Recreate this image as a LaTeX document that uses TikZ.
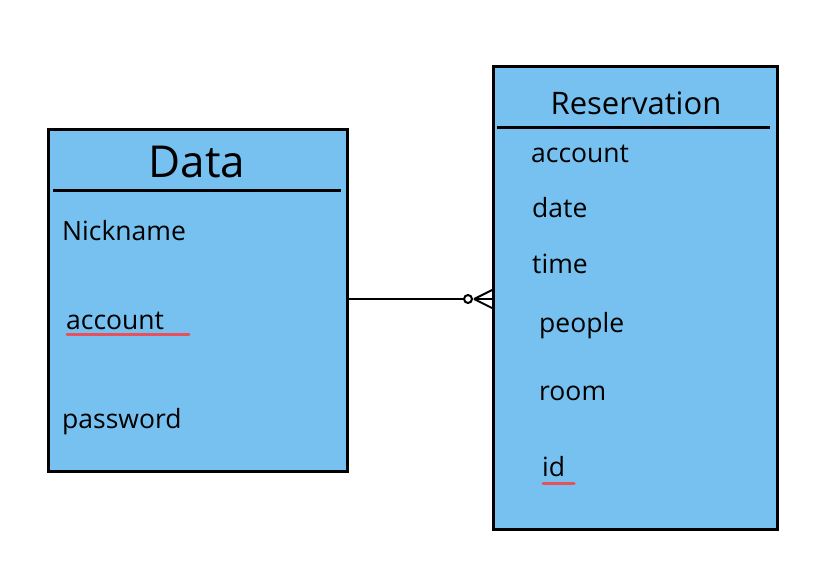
\documentclass[tikz,border=0pt]{standalone}
\usepackage{fontspec}
\setmainfont{Open Sans}
\begin{document}
\begin{tikzpicture}[x=1pt,y=-1pt,
  entity/.style={draw=black, line width=2.6pt, fill=boxblue},
  sepline/.style={line width=3pt},
  field/.style={anchor=base west, inner sep=0pt, font=\fontsize{26.5}{30}\selectfont},
  title/.style={anchor=base, inner sep=0pt, font=\fontsize{44}{48}\selectfont},
  keyline/.style={draw=keyred, line width=3pt, line cap=round},
  conn/.style={line width=2pt}]
\definecolor{boxblue}{RGB}{118,193,240}
\definecolor{keyred}{RGB}{232,80,90}
\useasboundingbox (0,0) rectangle (834,584);
% Data entity
\node[entity, minimum width=299pt, minimum height=342pt, anchor=north west, inner sep=0pt] (data) at (47,128) {};
\draw[sepline] (53,190) -- (341,190);
\node[title] (datat) at (197,177) {Data};
\node[field] (nick) at (62,240) {Nickname};
\node[field] (dacc) at (66,329) {account};
\draw[keyline] (67,334) -- (189,334);
\node[field] (pass) at (62,428) {password};
% Reservation entity
\node[entity, minimum width=284pt, minimum height=463pt, anchor=north west, inner sep=0pt] (res) at (492,65) {};
\draw[sepline] (497,127) -- (770,127);
\node[title, font=\fontsize{31}{35}\selectfont] (rest) at (636,114) {Reservation};
\node[field] (racc) at (531,162) {account};
\node[field] (rdate) at (532,217) {date};
\node[field] (rtime) at (532,273) {time};
\node[field] (rpeople) at (539,332) {people};
\node[field] (rroom) at (539,400) {room};
\node[field] (rid) at (542,476) {id};
\draw[keyline] (543,483) -- (574,483);
% connector
\coordinate (cf) at (474,299);
\draw[conn] (data.east |- 0,299) -- (464,299);
\draw[conn, fill=white] (468,299) circle (4pt);
\draw[conn] (cf) -- (res.west |- 0,290);
\draw[conn] (cf) -- (res.west |- 0,299);
\draw[conn] (cf) -- (res.west |- 0,308);
\end{tikzpicture}
\end{document}
